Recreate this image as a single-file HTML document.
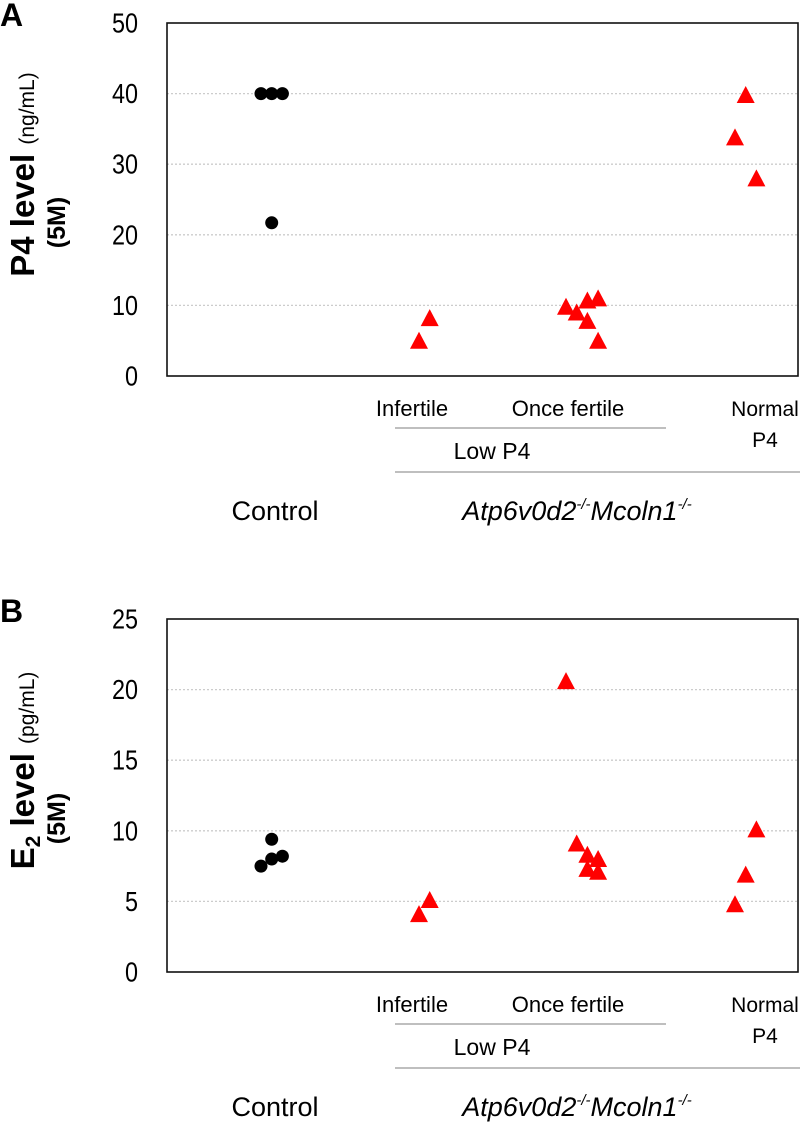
<!DOCTYPE html>
<html><head><meta charset="utf-8"><style>
html,body{margin:0;padding:0;background:#fff}
svg{display:block;font-family:"Liberation Sans",Arial,sans-serif}
</style></head><body>
<svg id="chart" width="800" height="1125" viewBox="0 0 800 1125"></svg>
<script>
// Panel A data (P4 ng/mL)
const aCtrlX = [0, 1, 2, 1];
const aCtrlY = [40, 40, 40, 21.7];
const aGroupX = [0, 1, 0, 1, 2, 3, 2, 3, 1, 0, 2];
const aGroupCat = [1, 1, 2, 2, 2, 2, 2, 2, 3, 3, 3];
const aRedY = [5, 8.2, 9.8, 9, 10.7, 11, 7.8, 5, 39.8, 33.8, 28];
const aTicks = [0, 10, 20, 30, 40, 50];
// Panel B data (E2 pg/mL)
const bCtrlX = [0, 1, 1, 2];
const bCtrlY = [7.5, 9.4, 8, 8.2];
const bGroupX = [0, 1, 0, 1, 2, 3, 2, 3, 0, 1, 2];
const bGroupCat = [1, 1, 2, 2, 2, 2, 2, 2, 3, 3, 3];
const bRedY = [4.1, 5.1, 20.6, 9.1, 8.3, 8, 7.3, 7.1, 4.8, 6.9, 10.1];
const bTicks = [0, 5, 10, 15, 20, 25];
const catCenters = [261, 419, 566, 735];
const NS = "http://www.w3.org/2000/svg";
const svg = document.getElementById('chart');
function mk(tag, attrs, parent, text){
  const e = document.createElementNS(NS, tag);
  for (const k in attrs) e.setAttribute(k, attrs[k]);
  if (text !== undefined) e.textContent = text;
  (parent || svg).appendChild(e);
  return e;
}
function panel(off, ticks, ymax, ctrlX, ctrlY, gx, gc, redY, letter, titleMain, titleSub, isE2){
  const g = mk('g', {});
  
  
  const top = 23 + off, bot = 376 + off, L = 167, R = 798;
  const y = v => bot - (v / ymax) * (bot - top);
  const x = (c, j) => catCenters[c] + j * 10.7;
  const lt = mk('text', {x: 0, y: 26 + off, 'font-size': 32, 'font-weight': 'bold'}, g, letter);
  
  
  ticks.forEach(t => {
    if (t > 0 && t < ymax) {
      const gl = mk('line', {x1: L, x2: R, y1: y(t), y2: y(t), stroke: '#ccc', 'stroke-width': 1.3, 'stroke-dasharray': '2,2'}, g);
      
      
    }
    const tl = mk('text', {transform: `translate(138,${y(t) + 9.5}) scale(0.9,1.05)`, 'font-size': 26, 'text-anchor': 'end'}, g, t);
    
    
  });
  const box = mk('rect', {x: L, y: top, width: R - L, height: bot - top, fill: 'none', stroke: '#111', 'stroke-width': 1.6}, g);
  
  
  const cy = (top + bot) / 2 - 25;
  const t1 = mk('text', {transform: `translate(34,${cy}) rotate(-90)`, 'text-anchor': 'middle', 'font-size': 33, 'font-weight': 'bold'}, g);
  
  
  if (isE2) {
    mk('tspan', {}, t1, 'E');
    mk('tspan', {'font-size': 21, dy: 6}, t1, '2');
    mk('tspan', {dy: -6}, t1, ' level ');
  } else mk('tspan', {}, t1, titleMain + ' ');
  mk('tspan', {'font-size': 21, 'font-weight': 'normal'}, t1, titleSub);
  const t2 = mk('text', {transform: `translate(65,${cy + 48}) rotate(-90)`, 'text-anchor': 'middle', 'font-size': 25, 'font-weight': 'bold'}, g, '(5M)');
  
  
  ctrlY.forEach((v, i) => {
    const c = mk('circle', {cx: x(0, ctrlX[i]), cy: y(v), r: 6.5, fill: '#000'}, g);
    
    
  });
  redY.forEach((v, i) => {
    const cx = x(gc[i], gx[i]), cyv = y(v);
    const p = mk('polygon', {points: `${cx-9},${cyv+8} ${cx+9},${cyv+8} ${cx},${cyv-9}`, fill: '#f00'}, g);
    
    
  });
  const lab = (tx, ty, s, fs, name, it) => {
    const e = mk('text', {x: tx, y: ty + off, 'font-size': fs, 'text-anchor': 'middle', 'font-style': it ? 'italic' : 'normal'}, g, s);
    
    
    return e;
  };
  lab(412, 416, 'Infertile', 22, 'category-infertile');
  lab(568, 416, 'Once fertile', 22, 'category-once-fertile');
  lab(765, 416, 'Normal', 21, 'category-normal');
  lab(765, 447, 'P4', 21, 'category-normal-p4');
  lab(492, 459, 'Low P4', 23, 'group-low-p4');
  lab(275, 520, 'Control', 27, 'group-control');
  const at = lab(577, 520, '', 27, 'group-mutant', true);
  mk('tspan', {}, at, 'Atp6v0d2');
  mk('tspan', {'font-size': 15, dy: -11}, at, '-/-');
  mk('tspan', {dy: 11}, at, 'Mcoln1');
  mk('tspan', {'font-size': 15, dy: -11}, at, '-/-');
  const l1 = mk('line', {x1: 395, x2: 666, y1: 428 + off, y2: 428 + off, stroke: '#999', 'stroke-width': 1.3}, g);
  
  
  const l2 = mk('line', {x1: 395, x2: 800, y1: 472 + off, y2: 472 + off, stroke: '#999', 'stroke-width': 1.3}, g);
  
  
}
panel(0, aTicks, 50, aCtrlX, aCtrlY, aGroupX, aGroupCat, aRedY, 'A', 'P4 level', '(ng/mL)', false);
panel(596, bTicks, 25, bCtrlX, bCtrlY, bGroupX, bGroupCat, bRedY, 'B', '', '(pg/mL)', true);
</script>
</body></html>
